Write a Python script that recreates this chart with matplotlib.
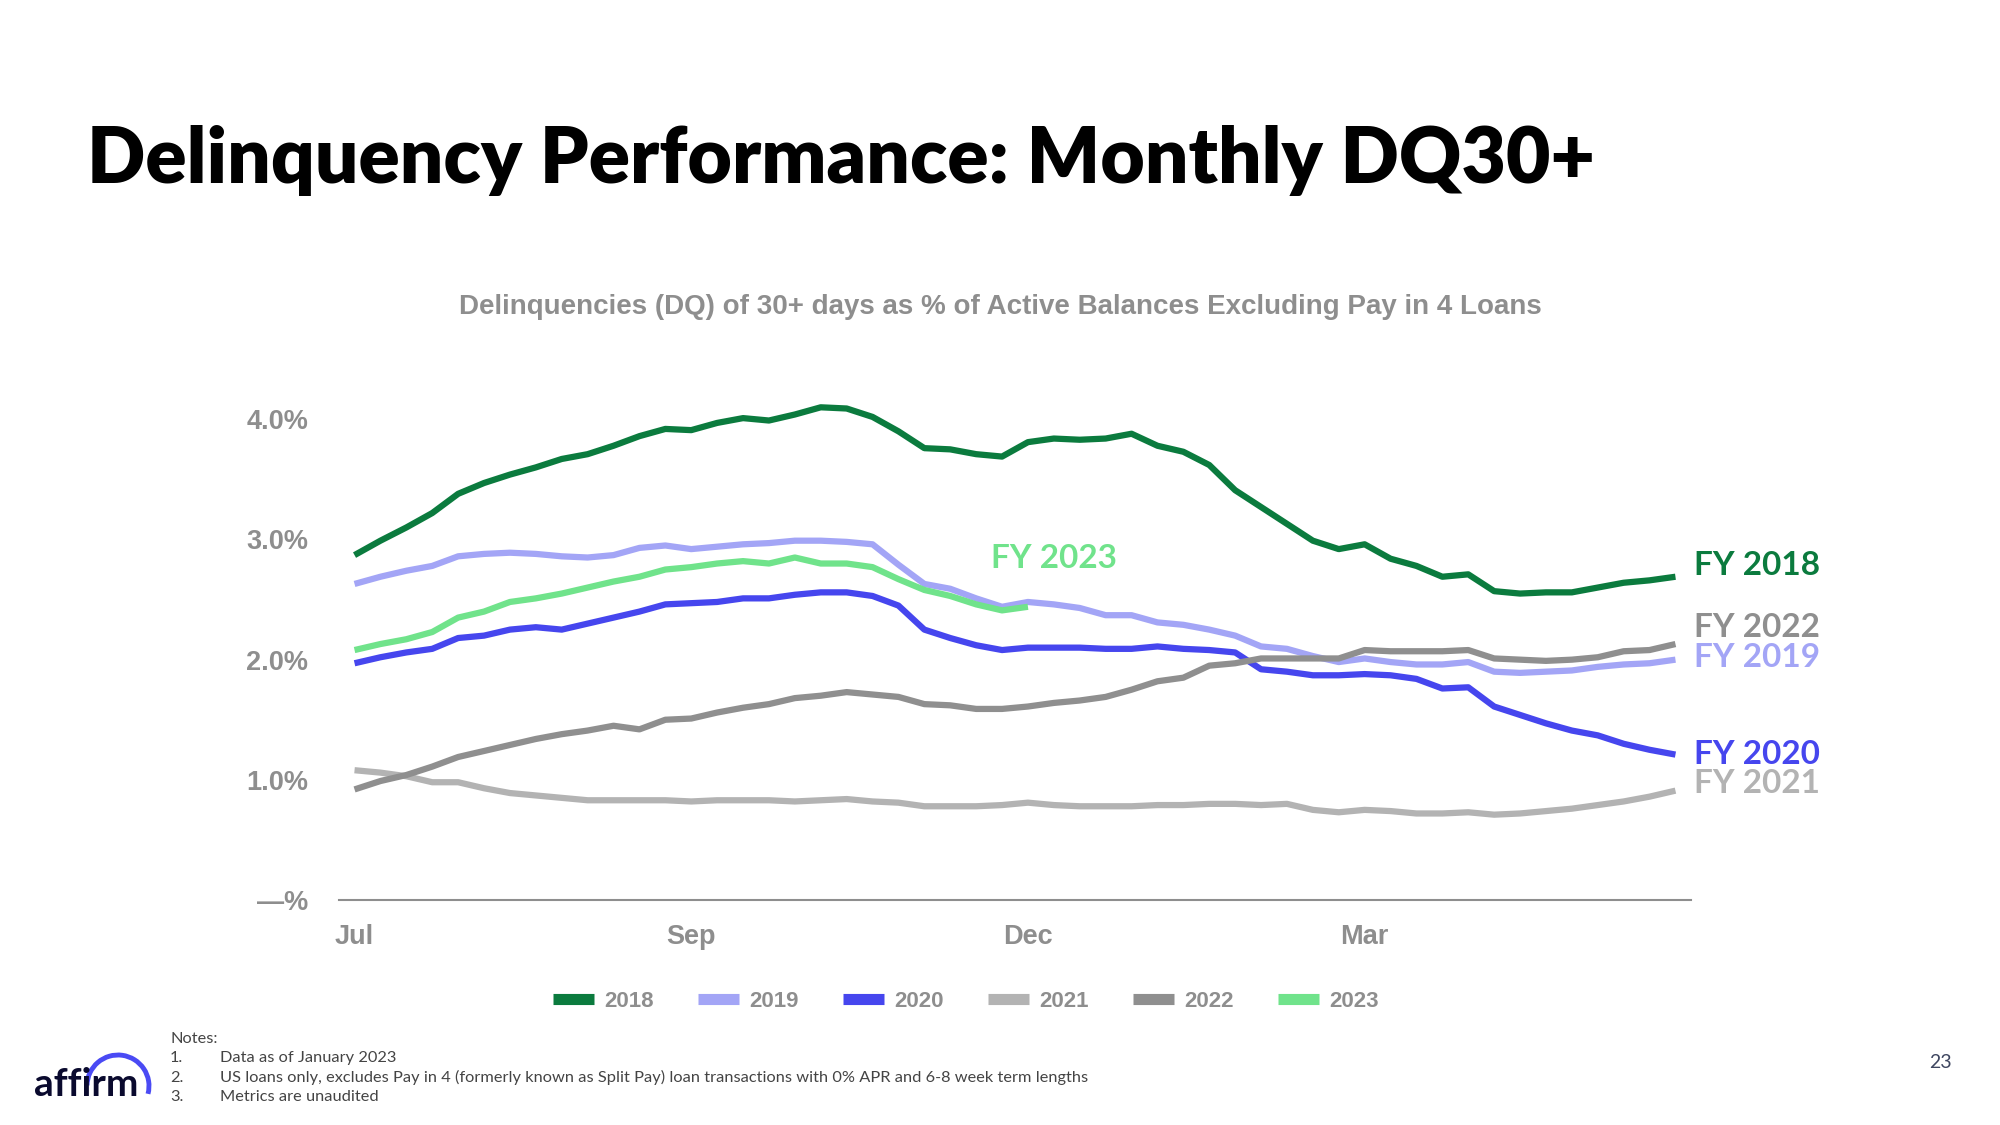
import matplotlib
matplotlib.use('Agg')
import matplotlib.pyplot as plt
from matplotlib.patches import Arc

# weekly DQ30+ rate (%) by fiscal year, Jul -> Jun
fy2018 = [2.87, 2.99, 3.10, 3.22, 3.38, 3.47, 3.54, 3.60, 3.67, 3.71, 3.78, 3.86, 3.92, 3.91, 3.97, 4.01, 3.99, 4.04, 4.10,
          4.09, 4.02, 3.90, 3.76, 3.75, 3.71, 3.69, 3.81, 3.84, 3.83, 3.84, 3.88, 3.78, 3.73, 3.62, 3.41, 3.27, 3.13, 2.99,
          2.92, 2.96, 2.84, 2.78, 2.69, 2.71, 2.57, 2.55, 2.56, 2.56, 2.60, 2.64, 2.66, 2.69]
fy2019 = [2.63, 2.69, 2.74, 2.78, 2.86, 2.88, 2.89, 2.88, 2.86, 2.85, 2.87, 2.93, 2.95, 2.92, 2.94, 2.96, 2.97, 2.99, 2.99,
          2.98, 2.96, 2.79, 2.63, 2.59, 2.51, 2.44, 2.48, 2.46, 2.43, 2.37, 2.37, 2.31, 2.29, 2.25, 2.20, 2.11, 2.09, 2.03,
          1.98, 2.01, 1.98, 1.96, 1.96, 1.98, 1.90, 1.89, 1.90, 1.91, 1.94, 1.96, 1.97, 2.00]
fy2020 = [1.97, 2.02, 2.06, 2.09, 2.18, 2.20, 2.25, 2.27, 2.25, 2.30, 2.35, 2.40, 2.46, 2.47, 2.48, 2.51, 2.51, 2.54, 2.56,
          2.56, 2.53, 2.45, 2.25, 2.18, 2.12, 2.08, 2.10, 2.10, 2.10, 2.09, 2.09, 2.11, 2.09, 2.08, 2.06, 1.92, 1.90, 1.87,
          1.87, 1.88, 1.87, 1.84, 1.76, 1.77, 1.61, 1.54, 1.47, 1.41, 1.37, 1.30, 1.25, 1.21]
fy2021 = [1.08, 1.06, 1.03, 0.98, 0.98, 0.93, 0.89, 0.87, 0.85, 0.83, 0.83, 0.83, 0.83, 0.82, 0.83, 0.83, 0.83, 0.82, 0.83,
          0.84, 0.82, 0.81, 0.78, 0.78, 0.78, 0.79, 0.81, 0.79, 0.78, 0.78, 0.78, 0.79, 0.79, 0.80, 0.80, 0.79, 0.80, 0.75,
          0.73, 0.75, 0.74, 0.72, 0.72, 0.73, 0.71, 0.72, 0.74, 0.76, 0.79, 0.82, 0.86, 0.91]
fy2022 = [0.92, 0.99, 1.04, 1.11, 1.19, 1.24, 1.29, 1.34, 1.38, 1.41, 1.45, 1.42, 1.50, 1.51, 1.56, 1.60, 1.63, 1.68, 1.70,
          1.73, 1.71, 1.69, 1.63, 1.62, 1.59, 1.59, 1.61, 1.64, 1.66, 1.69, 1.75, 1.82, 1.85, 1.95, 1.97, 2.01, 2.01, 2.01,
          2.01, 2.08, 2.07, 2.07, 2.07, 2.08, 2.01, 2.00, 1.99, 2.00, 2.02, 2.07, 2.08, 2.13]
fy2023 = [2.08, 2.13, 2.17, 2.23, 2.35, 2.40, 2.48, 2.51, 2.55, 2.60, 2.65, 2.69, 2.75, 2.77, 2.80, 2.82, 2.80, 2.85, 2.80,
          2.80, 2.77, 2.67, 2.58, 2.53, 2.46, 2.41, 2.44]

years = ['2018', '2019', '2020', '2021', '2022', '2023']
series = [fy2018, fy2019, fy2020, fy2021, fy2022, fy2023]
colors = ['#0B7B3E', '#A3A5F6', '#4646EE', '#B3B3B3', '#8F8F8F', '#70E38B']

month_pos = [0, 13, 26, 39]
month_labels = ['Jul', 'Sep', 'Dec', 'Mar']
y_ticks = [0, 1, 2, 3, 4]
y_labels = ['\u2014%', '1.0%', '2.0%', '3.0%', '4.0%']

# end-of-line labels: (text, y value, colour)
end_labels = [('FY 2018', 2.78, colors[0]), ('FY 2022', 2.27, colors[4]), ('FY 2019', 2.02, colors[1]),
              ('FY 2020', 1.21, colors[2]), ('FY 2021', 0.97, colors[3])]

gray = '#8E8E8E'
head_font = 'Lato'
chart_font = 'Liberation Sans'

fig = plt.figure(figsize=(20, 11.25), dpi=100)
ax = fig.add_axes([0.1695, 0.2, 0.676, 0.47])

for yr, vals, c in zip(years, series, colors):
    ax.plot(range(len(vals)), vals, color=c, lw=4.5, label=yr,
            solid_joinstyle='round', solid_capstyle='butt')

ax.set_xlim(-0.6, 51.6)
ax.set_ylim(0, 4.4)
for s in ['top', 'right', 'left']:
    ax.spines[s].set_visible(False)
ax.spines['bottom'].set_color(gray)
ax.spines['bottom'].set_linewidth(1.5)

ax.set_xticks(month_pos)
ax.set_xticklabels(month_labels, fontsize=19.5, fontweight='bold', color=gray, family=chart_font)
ax.set_yticks(y_ticks)
ax.set_yticklabels(y_labels, fontsize=19.5, fontweight='bold', color=gray, family=chart_font)
ax.tick_params(axis='both', length=0)
ax.tick_params(axis='x', pad=17)
ax.tick_params(axis='y', pad=22)

for txt, yv, c in end_labels:
    ax.text(51.7, yv, txt, color=c, fontsize=24, fontweight='bold', family=head_font,
            va='center', ha='left', clip_on=False)
ax.text(27.0, 2.84, 'FY 2023', color=colors[5], fontsize=24, fontweight='bold',
        family=head_font, va='center', ha='center')

fig.legend(loc='center', bbox_to_anchor=(0.483, 0.110), ncol=6, frameon=False,
           prop={'family': chart_font, 'weight': 'bold', 'size': 16},
           handlelength=1.85, handletextpad=0.45, columnspacing=2.0,
           labelcolor=gray)
for h in fig.legends[0].legend_handles:
    h.set_linewidth(8)

fig.text(0.5, 1 - 307 / 1125, 'Delinquencies (DQ) of 30+ days as % of Active Balances Excluding Pay in 4 Loans',
         ha='center', va='center', fontsize=20, fontweight='bold', color=gray, family=chart_font)

fig.text(87 / 2000, 1 - 160 / 1125, 'Delinquency Performance: Monthly DQ30+', ha='left', va='center',
         fontsize=55.3, fontweight='heavy', color='black', family=head_font)

# notes
notes = ['Data as of January 2023',
         'US loans only, excludes Pay in 4 (formerly known as Split Pay) loan transactions with 0% APR and 6-8 week term lengths',
         'Metrics are unaudited']
note_color = '#444444'
fig.text(170 / 2000, 1 - 1039 / 1125, 'Notes:', fontsize=11.8, color=note_color, family=head_font, va='center')
for i, n in enumerate(notes):
    yy = 1 - (1058 + i * 19.5) / 1125
    fig.text(170 / 2000, yy, '%d.' % (i + 1), fontsize=11.8, color=note_color, family=head_font, va='center')
    fig.text(220 / 2000, yy, n, fontsize=11.8, color=note_color, family=head_font, va='center')

# page number
fig.text(1940 / 2000, 1 - 1062 / 1125, '23', fontsize=14, color='#3E4660', family=head_font,
         ha='center', va='center')

# affirm logo
fig.text(34 / 2000, 1 - 1085 / 1125, 'affirm', fontsize=28, fontweight='bold', color='#0A0A2E',
         family=head_font, ha='left', va='center')
r = 31
fig.add_artist(Arc((118 / 2000, 1 - 1086 / 1125), 2 * r / 2000, 2 * r / 1125, theta1=-25, theta2=178,
                   transform=fig.transFigure, color='#4A4AF4', lw=3.5))

fig.savefig('out.png', dpi=100, facecolor='white')
